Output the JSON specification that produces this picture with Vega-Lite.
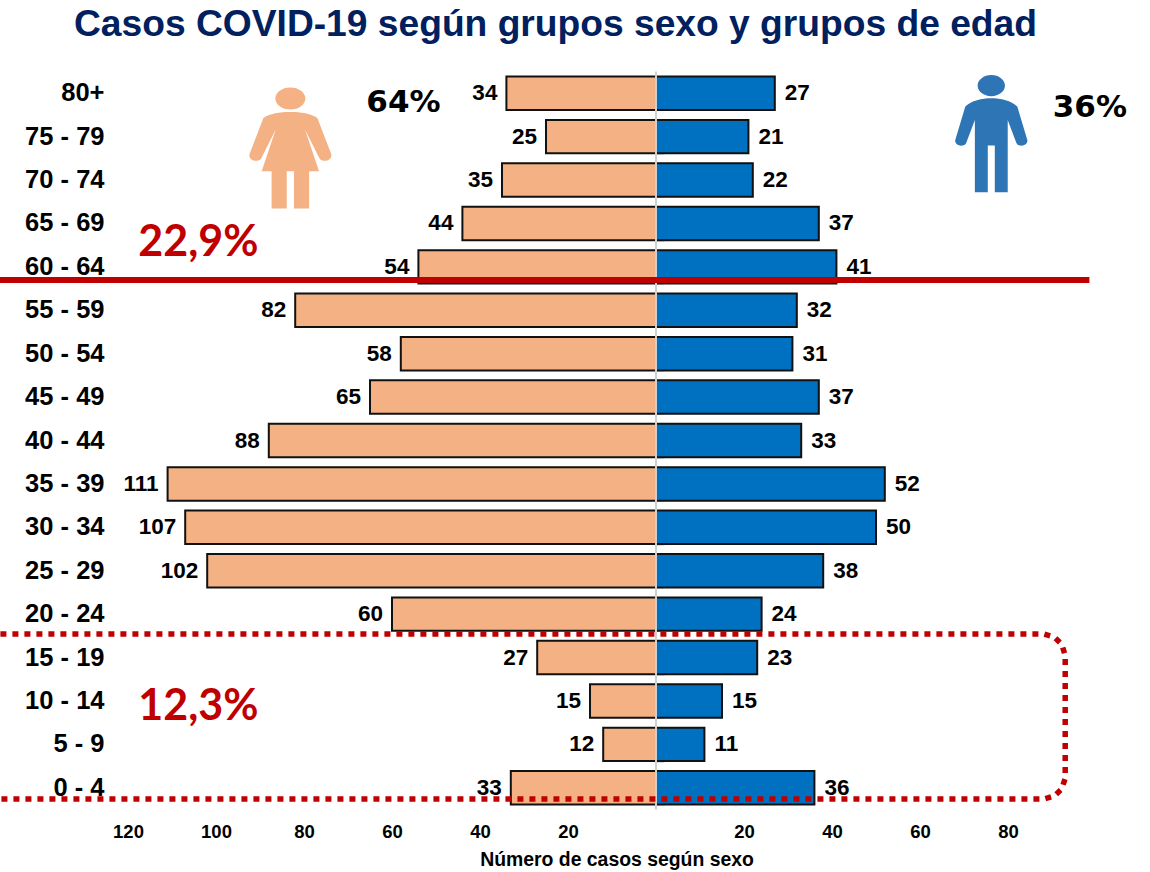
{
"$schema":"https://vega.github.io/schema/vega-lite/v6.json",
"autosize":{"type":"none"},
"padding":{"left":0,"top":71.5,"right":0,"bottom":62.5},
"width":1150,"height":738,
"background":"white",
"title":{"text":"Casos COVID-19 según grupos sexo y grupos de edad","font":"Liberation Sans","fontWeight":"bold","fontSize":37.2,"color":"#002060","anchor":"middle","frame":"group","dx":-19.5,"offset":-2.5,"baseline":"alphabetic"},
"datasets":{
"casos":[
{"grupo":"80+","sexo":"Mujer","casos":34,"pos":-34},{"grupo":"75 - 79","sexo":"Mujer","casos":25,"pos":-25},{"grupo":"70 - 74","sexo":"Mujer","casos":35,"pos":-35},{"grupo":"65 - 69","sexo":"Mujer","casos":44,"pos":-44},{"grupo":"60 - 64","sexo":"Mujer","casos":54,"pos":-54},{"grupo":"55 - 59","sexo":"Mujer","casos":82,"pos":-82},{"grupo":"50 - 54","sexo":"Mujer","casos":58,"pos":-58},{"grupo":"45 - 49","sexo":"Mujer","casos":65,"pos":-65},{"grupo":"40 - 44","sexo":"Mujer","casos":88,"pos":-88},{"grupo":"35 - 39","sexo":"Mujer","casos":111,"pos":-111},{"grupo":"30 - 34","sexo":"Mujer","casos":107,"pos":-107},{"grupo":"25 - 29","sexo":"Mujer","casos":102,"pos":-102},{"grupo":"20 - 24","sexo":"Mujer","casos":60,"pos":-60},{"grupo":"15 - 19","sexo":"Mujer","casos":27,"pos":-27},{"grupo":"10 - 14","sexo":"Mujer","casos":15,"pos":-15},{"grupo":"5 - 9","sexo":"Mujer","casos":12,"pos":-12},{"grupo":"0 - 4","sexo":"Mujer","casos":33,"pos":-33},
{"grupo":"80+","sexo":"Hombre","casos":27,"pos":27},{"grupo":"75 - 79","sexo":"Hombre","casos":21,"pos":21},{"grupo":"70 - 74","sexo":"Hombre","casos":22,"pos":22},{"grupo":"65 - 69","sexo":"Hombre","casos":37,"pos":37},{"grupo":"60 - 64","sexo":"Hombre","casos":41,"pos":41},{"grupo":"55 - 59","sexo":"Hombre","casos":32,"pos":32},{"grupo":"50 - 54","sexo":"Hombre","casos":31,"pos":31},{"grupo":"45 - 49","sexo":"Hombre","casos":37,"pos":37},{"grupo":"40 - 44","sexo":"Hombre","casos":33,"pos":33},{"grupo":"35 - 39","sexo":"Hombre","casos":52,"pos":52},{"grupo":"30 - 34","sexo":"Hombre","casos":50,"pos":50},{"grupo":"25 - 29","sexo":"Hombre","casos":38,"pos":38},{"grupo":"20 - 24","sexo":"Hombre","casos":24,"pos":24},{"grupo":"15 - 19","sexo":"Hombre","casos":23,"pos":23},{"grupo":"10 - 14","sexo":"Hombre","casos":15,"pos":15},{"grupo":"5 - 9","sexo":"Hombre","casos":11,"pos":11},{"grupo":"0 - 4","sexo":"Hombre","casos":36,"pos":36}
],
"caja":[
{"orden":1,"pos":-149,"nivel":4.04},{"orden":2,"pos":88.2,"nivel":4.04},{"orden":3,"pos":90.5,"nivel":3.97},{"orden":4,"pos":92.2,"nivel":3.81},{"orden":5,"pos":93,"nivel":3.55},{"orden":6,"pos":93,"nivel":0.72},{"orden":7,"pos":92.2,"nivel":0.47},{"orden":8,"pos":90.5,"nivel":0.31},{"orden":9,"pos":88.2,"nivel":0.24},{"orden":10,"pos":-149,"nivel":0.24}
],
"corte":[{"orden":1,"pos":-149.09,"nivel":12.2},{"orden":2,"pos":98.5,"nivel":12.2}],
"sexoTotal":[{"texto":"64%","pos":-57.4,"nivel":16.27},{"texto":"36%","pos":98.6,"nivel":16.17}],
"rojo":[{"texto":"22,9%","pos":-104,"nivel":13.05},{"texto":"12,3%","pos":-104,"nivel":2.36}]
},
"layer":[
{"data":{"name":"casos"},"transform":[{"filter":"datum.sexo==='Mujer'"}],
 "mark":{"type":"bar","fill":"#F4B183","stroke":"#111111","strokeWidth":2},
 "encoding":{
  "x":{"field":"pos","type":"quantitative","stack":null,"scale":{"domain":[-149.09,112.27],"nice":false,"zero":false},
   "axis":{"values":[-120,-100,-80,-60,-40,-20,20,40,60,80],"labelExpr":"abs(datum.value)","domain":false,"ticks":false,"grid":false,"labelFont":"Liberation Sans","labelFontWeight":"bold","labelFontSize":18.5,"labelColor":"#000000","labelPadding":13,"labelOverlap":false,"title":"Número de casos según sexo","titleFont":"Liberation Sans","titleFontWeight":"bold","titleFontSize":19.4,"titleColor":"#000000","titleX":616.5,"titleY":56,"titleBaseline":"alphabetic"}},
  "y":{"field":"grupo","type":"nominal","scale":{"domain":["80+","75 - 79","70 - 74","65 - 69","60 - 64","55 - 59","50 - 54","45 - 49","40 - 44","35 - 39","30 - 34","25 - 29","20 - 24","15 - 19","10 - 14","5 - 9","0 - 4"],"paddingInner":0.23,"paddingOuter":0.115},
   "axis":{"orient":"left","offset":-104,"domain":false,"ticks":false,"grid":false,"labelPadding":0,"labelFont":"Liberation Sans","labelFontWeight":"bold","labelFontSize":25.5,"labelColor":"#000000","title":null}}
 }},
{"data":{"name":"casos"},"transform":[{"filter":"datum.sexo==='Hombre'"}],
 "mark":{"type":"bar","fill":"#0070C0","stroke":"#111111","strokeWidth":2},
 "encoding":{
  "x":{"field":"pos","type":"quantitative","stack":null},
  "y":{"field":"grupo","type":"nominal","scale":{"domain":["80+","75 - 79","70 - 74","65 - 69","60 - 64","55 - 59","50 - 54","45 - 49","40 - 44","35 - 39","30 - 34","25 - 29","20 - 24","15 - 19","10 - 14","5 - 9","0 - 4"],"paddingInner":0.23,"paddingOuter":0.115},
   "axis":{"orient":"right","offset":-494,"domain":false,"ticks":true,"tickBand":"extent","tickSize":8,"tickColor":"#D0D0D0","tickWidth":1.5,"grid":false,"labels":false,"title":null}}
 }},
{"data":{"name":"casos"},"transform":[{"filter":"datum.sexo==='Mujer'"}],
 "mark":{"type":"text","align":"right","baseline":"middle","dx":-9,"font":"Liberation Sans","fontWeight":"bold","fontSize":22.5,"color":"#000000"},
 "encoding":{
  "x":{"field":"pos","type":"quantitative"},
  "y":{"field":"grupo","type":"nominal","axis":null,"scale":{"domain":["80+","75 - 79","70 - 74","65 - 69","60 - 64","55 - 59","50 - 54","45 - 49","40 - 44","35 - 39","30 - 34","25 - 29","20 - 24","15 - 19","10 - 14","5 - 9","0 - 4"]}},
  "text":{"field":"casos","type":"quantitative"}
 }},
{"data":{"name":"casos"},"transform":[{"filter":"datum.sexo==='Hombre'"}],
 "mark":{"type":"text","align":"left","baseline":"middle","dx":10,"font":"Liberation Sans","fontWeight":"bold","fontSize":22.5,"color":"#000000"},
 "encoding":{
  "x":{"field":"pos","type":"quantitative"},
  "y":{"field":"grupo","type":"nominal","axis":null,"scale":{"domain":["80+","75 - 79","70 - 74","65 - 69","60 - 64","55 - 59","50 - 54","45 - 49","40 - 44","35 - 39","30 - 34","25 - 29","20 - 24","15 - 19","10 - 14","5 - 9","0 - 4"]}},
  "text":{"field":"casos","type":"quantitative"}
 }},
{"data":{"values":[{"inicio":0,"fin":17,"pos":0}]},
 "mark":{"type":"rule","color":"#D0D0D0","strokeWidth":2},
 "encoding":{
  "x":{"field":"pos","type":"quantitative"},
  "y":{"field":"inicio","type":"quantitative","axis":null,"scale":{"domain":[0,17],"nice":false,"zero":false}},
  "y2":{"field":"fin"}
 }},
{"data":{"name":"corte"},
 "mark":{"type":"line","color":"#C00000","strokeWidth":6,"clip":false},
 "encoding":{
  "x":{"field":"pos","type":"quantitative"},
  "y":{"field":"nivel","type":"quantitative","axis":null,"scale":{"domain":[0,17],"nice":false,"zero":false}},
  "order":{"field":"orden"}
 }},
{"data":{"name":"caja"},
 "mark":{"type":"line","color":"#C00000","strokeWidth":5.5,"strokeDash":[6,6],"clip":false},
 "encoding":{
  "x":{"field":"pos","type":"quantitative"},
  "y":{"field":"nivel","type":"quantitative","axis":null,"scale":{"domain":[0,17],"nice":false,"zero":false}},
  "order":{"field":"orden"}
 }},
{"data":{"name":"sexoTotal"},
 "mark":{"type":"text","align":"center","baseline":"middle","font":"DejaVu Sans","fontWeight":"bold","fontSize":31,"color":"#000000"},
 "encoding":{
  "x":{"field":"pos","type":"quantitative"},
  "y":{"field":"nivel","type":"quantitative","axis":null,"scale":{"domain":[0,17],"nice":false,"zero":false}},
  "text":{"field":"texto"}
 }},
{"data":{"name":"rojo"},
 "mark":{"type":"text","align":"center","baseline":"middle","font":"Lato","fontWeight":"bold","fontSize":43,"color":"#C00000"},
 "encoding":{
  "x":{"field":"pos","type":"quantitative"},
  "y":{"field":"nivel","type":"quantitative","axis":null,"scale":{"domain":[0,17],"nice":false,"zero":false}},
  "text":{"field":"texto"}
 }},
{"data":{"values":[{"sexo":"Mujer","pos":-83.1,"nivel":15.24}]},
 "mark":{"type":"point","filled":true,"opacity":1,"fill":"#F4B183","strokeWidth":0,"size":14641,"shape":"M0 -.595 C.17 -.595 .35 -.57 .446 -.496 L.672 .094 C.7 .17 .62 .23 .53 .209 C.5 .2 .49 .19 .47 .15 L.242 -.303 L.474 .386 L.31 .386 L.31 1 L.06 1 L.06 .386 L-.06 .386 L-.06 1 L-.31 1 L-.31 .386 L-.474 .386 L-.242 -.303 L-.47 .15 C-.49 .19 -.5 .2 -.53 .209 C-.62 .23 -.7 .17 -.672 .094 L-.446 -.496 C-.35 -.57 -.17 -.595 0 -.595 Z M-.248 -.815 A.248 .182 0 1 1 .248 -.815 A.248 .182 0 1 1 -.248 -.815 Z"},
 "encoding":{
  "x":{"field":"pos","type":"quantitative"},
  "y":{"field":"nivel","type":"quantitative","axis":null,"scale":{"domain":[0,17],"nice":false,"zero":false}}
 }},
{"data":{"values":[{"sexo":"Hombre","pos":76.2,"nivel":15.57}]},
 "mark":{"type":"point","filled":true,"opacity":1,"fill":"#2E75B6","strokeWidth":0,"size":13767,"shape":"M0 -.602 C.16 -.602 .34 -.56 .443 -.46 L.614 .108 C.63 .17 .55 .23 .47 .2 C.44 .19 .43 .17 .42 .14 L.28 -.233 L.28 1 L.06 1 L.06 .205 L-.06 .205 L-.06 1 L-.28 1 L-.28 -.233 L-.42 .14 C-.43 .17 -.44 .19 -.47 .2 C-.55 .23 -.63 .17 -.614 .108 L-.443 -.46 C-.34 -.56 -.16 -.602 0 -.602 Z M-.233 -.818 A.233 .182 0 1 1 .233 -.818 A.233 .182 0 1 1 -.233 -.818 Z"},
 "encoding":{
  "x":{"field":"pos","type":"quantitative"},
  "y":{"field":"nivel","type":"quantitative","axis":null,"scale":{"domain":[0,17],"nice":false,"zero":false}}
 }}
],
"resolve":{"scale":{"y":"independent"},"axis":{"y":"independent"}},
"config":{"view":{"stroke":null}}
}
